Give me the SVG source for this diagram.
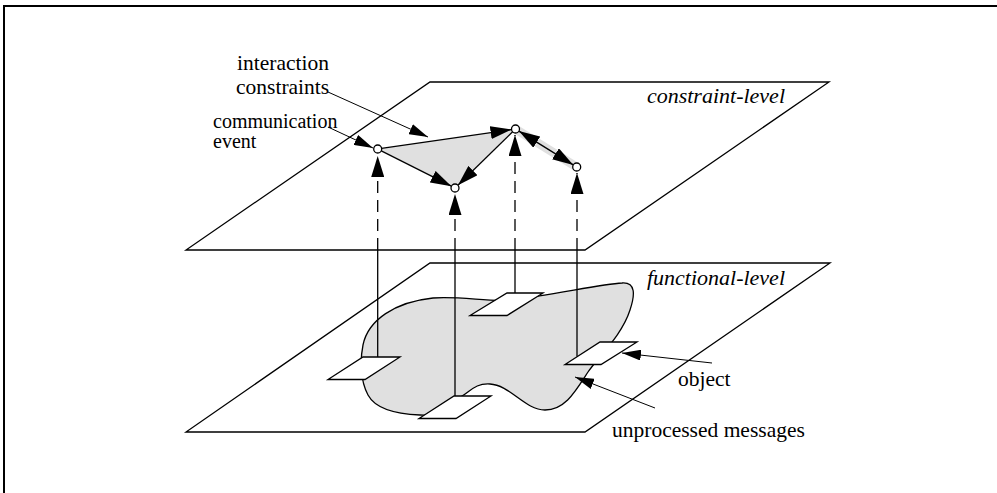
<svg xmlns="http://www.w3.org/2000/svg" width="997" height="493" viewBox="0 0 997 493">
  <defs>
    <style>
      .plane{fill:none;stroke:#000;stroke-width:1.3}
      .ln{fill:none;stroke:#000;stroke-width:1.3}
      .thin{fill:none;stroke:#000;stroke-width:1}
      .dash{stroke-dasharray:12 7}
      .obj{fill:#fff;stroke:#000;stroke-width:1.3;stroke-linejoin:miter}
      .ev{fill:#fff;stroke:#000;stroke-width:1.3}
      .shade{fill:#e0e0e0;stroke:none}
      .blob{fill:#e0e0e0;stroke:#000;stroke-width:1.3}
      text{fill:#000;font-size:21.5px}
      .small{font-size:20px}
      .lvl{font-style:italic;font-size:22px;text-anchor:end}
    </style>
    <marker id="head" viewBox="0 0 21 13" refX="21" refY="6.5" markerWidth="21" markerHeight="13" markerUnits="userSpaceOnUse" orient="auto">
      <path d="M0,0 L21,6.5 L0,13 Z" fill="#000"/>
    </marker>
    <marker id="headRev" viewBox="0 0 21 13" refX="21" refY="6.5" markerWidth="21" markerHeight="13" markerUnits="userSpaceOnUse" orient="auto-start-reverse">
      <path d="M0,0 L21,6.5 L0,13 Z" fill="#000"/>
    </marker>
    <marker id="tag" viewBox="0 0 19 11" refX="19" refY="5.5" markerWidth="19" markerHeight="11" markerUnits="userSpaceOnUse" orient="auto">
      <path d="M0,0 L19,5.5 L0,11 Z" fill="#000"/>
    </marker>
  </defs>

  <!-- frame -->
  <path d="M4,493 V6 H997" fill="none" stroke="#000" stroke-width="2"/>

  <g font-family="'Liberation Serif', 'DejaVu Serif', 'Times New Roman', serif">
  <!-- the two levels -->
  <g id="constraint-plane">
    <polygon class="plane" points="430,82 829,82 585,250 186,250"/>
    <text class="lvl" x="785" y="103">constraint-level</text>
  </g>
  <g id="functional-plane">
    <polygon class="plane" points="430,263 830,263 585,432 186,432"/>
    <text class="lvl" x="785" y="285">functional-level</text>
  </g>

  <!-- pool of unprocessed messages -->
  <g id="messages">
    <path class="blob" d="M433,298 C460,296 490,302 510,300 C550,296 600,284 622,283 C636,282 635,295 630,310 C622,335 600,355 588,372 C575,392 565,410 545,410 C525,410 510,385 490,384 C475,383 470,392 462,396 C450,410 440,416 420,415 C395,414 375,408 368,395 C360,380 360,360 363,345 C368,320 395,302 433,298 Z"/>
  </g>

  <!-- shaded constraint regions -->
  <g id="constraint-regions">
    <polygon class="shade" points="377.7,149 515.5,129 455,188"/>
    <line x1="513" y1="127.5" x2="579" y2="168.5" stroke="#e0e0e0" stroke-width="9"/>
  </g>

  <!-- connectors -->
  <g id="connectors">
    <!-- object to event projections -->
    <line class="ln" x1="377.7" y1="250" x2="377.7" y2="357"/>
    <line class="ln dash" x1="377.7" y1="250" x2="377.7" y2="156" marker-end="url(#head)"/>
    <line class="ln" x1="455" y1="250" x2="455" y2="396"/>
    <line class="ln dash" x1="455" y1="250" x2="455" y2="194" marker-end="url(#head)"/>
    <line class="ln" x1="515" y1="250" x2="515" y2="293"/>
    <line class="ln dash" x1="515" y1="250" x2="515" y2="135" marker-end="url(#head)"/>
    <line class="ln" x1="577" y1="250" x2="577" y2="356.5"/>
    <line class="ln dash" x1="577" y1="250" x2="577" y2="173" marker-end="url(#head)"/>

    <!-- interaction constraints between events -->
    <line class="ln" x1="381.5" y1="148.4" x2="511.5" y2="129.6" marker-end="url(#head)"/>
    <line class="ln" x1="381.3" y1="150.8" x2="451.4" y2="186.2" marker-end="url(#head)"/>
    <line class="ln" x1="512.6" y1="131.8" x2="457.9" y2="185.2" marker-end="url(#head)"/>
    <line class="ln" x1="518.9" y1="131.1" x2="573.3" y2="164.9" marker-start="url(#headRev)" marker-end="url(#headRev)"/>

    <!-- label pointers -->
    <line class="thin" x1="328" y1="92" x2="428" y2="137" marker-end="url(#tag)"/>
    <line class="thin" x1="328" y1="127" x2="373" y2="148" marker-end="url(#tag)"/>
    <line class="thin" x1="712" y1="363" x2="622" y2="353" marker-end="url(#tag)"/>
    <line class="thin" x1="655" y1="408" x2="575" y2="377" marker-end="url(#tag)"/>
  </g>

  <!-- communication events -->
  <g id="event-a"><circle class="ev" cx="377.7" cy="149" r="4"/></g>
  <g id="event-b"><circle class="ev" cx="455" cy="188" r="4"/></g>
  <g id="event-c"><circle class="ev" cx="515.5" cy="129" r="4"/></g>
  <g id="event-d"><circle class="ev" cx="576.7" cy="167" r="4"/></g>

  <!-- objects -->
  <g id="object-a"><polygon class="obj" points="363,357 400,357 365,379.5 328,379.5"/></g>
  <g id="object-b"><polygon class="obj" points="454,396 491,396 456,418.5 419,418.5"/></g>
  <g id="object-c"><polygon class="obj" points="507,293 543,293 507,315.5 470,315.5"/></g>
  <g id="object-d"><polygon class="obj" points="600,342 637,342 601,364.5 565,364.5"/></g>

  <!-- labels -->
  <g id="labels">
    <text x="237" y="70">interaction</text>
    <text x="236" y="94">constraints</text>
    <text class="small" x="213" y="128">communication</text>
    <text class="small" x="213" y="148">event</text>
    <text x="678" y="386">object</text>
    <text x="612" y="437">unprocessed messages</text>
  </g>
  </g>
</svg>
